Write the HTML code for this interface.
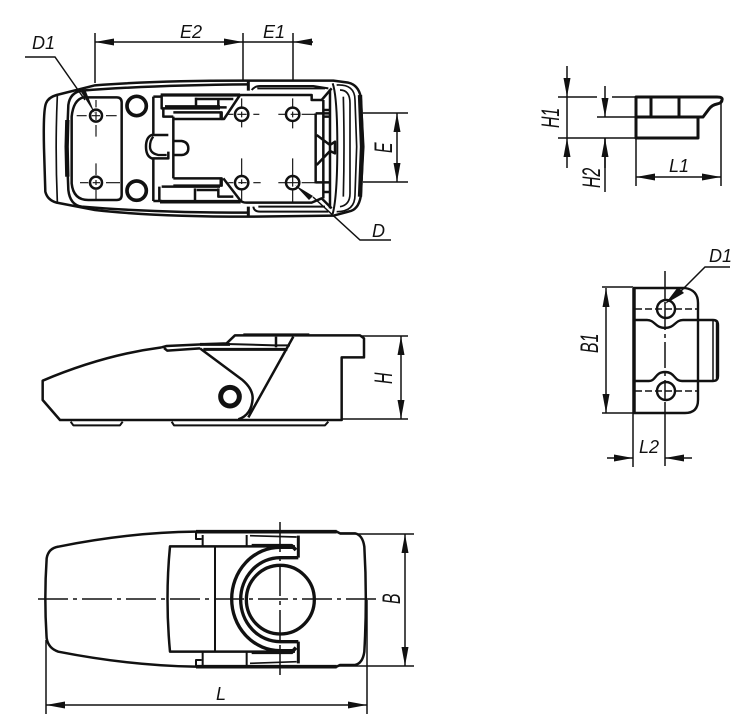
<!DOCTYPE html>
<html><head><meta charset="utf-8"><style>
html,body{margin:0;padding:0;background:#fff}
svg{display:block}
text{font-family:"Liberation Sans",sans-serif;font-style:italic;fill:#111;font-size:18px}
</style></head><body>
<svg width="750" height="718" viewBox="0 0 750 718" xmlns="http://www.w3.org/2000/svg">
<defs>
<marker id="a" viewBox="0 0 19 7" refX="19" refY="3.5" markerWidth="19" markerHeight="7" markerUnits="userSpaceOnUse" orient="auto-start-reverse"><path d="M0 0L19 3.5L0 7Z" fill="#111"/></marker>
</defs>
<g transform="translate(20 20) scale(.33333)" fill="none" stroke="#111" stroke-width="7.5" stroke-linejoin="round">
<path d="M72 385C70 300 72 265 78 250Q85 232 110 225L225 196Q400 182 670 182L940 182L985 188Q1015 195 1022 230L1030 380L1022 530Q1015 570 985 575L940 587L680 590Q400 590 225 570L110 548Q82 540 76 515Z"/>
<path d="M112 228Q105 380 112 545" stroke-width="5"/>
<path d="M185 212Q400 195 685 193M185 212Q150 218 145 255L140 380L145 510Q150 555 185 560Q400 578 685 578"/>
<path d="M685 183V212M685 560V590" stroke-width="9"/>
<path d="M190 232L290 232Q305 232 305 247L305 525Q305 540 290 540L205 540Q160 540 155 490L155 290Q160 240 190 232Z"/>
<path d="M142 300L140 380L142 470" stroke-width="13"/>
<circle cx="350" cy="258" r="29" stroke-width="11"/><circle cx="350" cy="512" r="29" stroke-width="11"/>
<circle cx="228" cy="287" r="18"/><circle cx="228" cy="488" r="18"/><circle cx="665" cy="283" r="20"/><circle cx="818" cy="283" r="20"/><circle cx="665" cy="488" r="20"/><circle cx="818" cy="488" r="20"/>
<path stroke-width="3.5" d="M170 287H200M215 287H240M258 287H290M180 488H205M218 488H240M258 488H300M228 240V262M228 275V300M228 315V350M228 430V465M228 480V495M228 510V540M625 283H640M652 283H680M700 283H718M775 283H800M812 283H835M845 283H885M625 488H640M655 488H680M700 488H722M775 488H835M845 488H890M665 235V262M665 275V292M665 305V322M818 235V262M818 275V292M818 305V325M665 415V465M665 478V492M665 510V545M818 415V500M818 510V545"/>
<path d="M400 230V345M400 415V543M400 230H425M400 543H425M445 345H395Q378 352 378 380Q378 408 395 415H445V395"/>
<path d="M440 405H415Q390 400 390 380Q390 360 400 350" stroke-width="7"/>
<path d="M460 363H485Q505 366 505 385Q505 403 485 405H460M460 290V475"/>
<path d="M422 225H660" stroke-width="10"/>
<path d="M425 225V265H600M430 265V290H460M460 277H605V297H460M528 233V260M530 237H640M595 240V262M595 262L620 262M605 277V297"/>
<path d="M435 260H600" stroke-width="9"/>
<path d="M605 297H612L660 225H875V240H905L935 205"/>
<path d="M603 275V297" stroke-width="9"/>
<path d="M460 475H605V497H460M425 500H600M418 500V540M525 505V540M530 510H595M595 505V530H640"/>
<path d="M420 545H662" stroke-width="11"/>
<path d="M603 475V497" stroke-width="9"/>
<path d="M610 475L660 540Q665 548 680 548H875L905 535L935 565"/>
<path d="M695 210Q705 198 720 198H880L925 205M700 560Q702 575 720 575H880L925 575M712 205H915M715 560H915" stroke-width="6"/>
<path d="M887 280V490M887 280H930M887 487H930M910 240V535M930 208V565M910 270H930M910 290H930M910 516H930M890 345L930 375L945 365V400L930 393L890 435"/>
<path d="M938 190Q952 230 952 380Q952 530 938 582" stroke-width="6"/>
<path d="M950 195Q1005 192 1005 240L1010 380L1005 525Q1005 575 950 575" stroke-width="5"/>
<path d="M960 210Q990 210 990 250V520Q990 555 960 560" stroke-width="5"/>
<path d="M970 230Q974 380 970 530" stroke-width="5"/>
<path d="M1020 225L1026 380L1020 530" stroke-width="13"/>
</g>
<g fill="none" stroke="#111" stroke-width="1.5">
<path d="M95 33V83M243 33V81M293 33V81"/>
<path d="M25 57H55L85 100"/><path d="M391 240H360L313 197"/>
<path d="M95 42H243" marker-start="url(#a)" marker-end="url(#a)"/>
<path d="M243 42H293"/><path d="M313 42H293" marker-end="url(#a)"/>
<path d="M363 113H408M363 182H408"/>
<path d="M397 113V182" marker-start="url(#a)" marker-end="url(#a)"/>
</g>
<path d="M295 185L313 196L309 200Z" fill="#111"/>
<path d="M95 114L81 92L85 89Z" fill="#111"/>
<text x="32" y="49">D1</text>
<text x="180" y="38">E2</text>
<text x="263" y="38">E1</text>
<text x="372" y="237">D</text>
<text transform="translate(392 153) rotate(-90) scale(.88 1.38)">E</text>
<g transform="translate(30 320) scale(.33333)" fill="none" stroke="#111" stroke-width="7.5" stroke-linejoin="round">
<path d="M395 82Q220 105 38 182V240L90 300H935V112H1002V55L990 46H615L590 70L540 72L410 78L395 82"/>
<path d="M402 84L412 92L510 85"/>
<path d="M122 305L130 316H270L278 305M425 305L432 316H885L895 305" stroke-width="6"/>
<path d="M510 85L635 178Q668 205 668 235Q665 285 625 298M790 50L655 292"/>
<path d="M510 73H600" stroke-width="9"/>
<path d="M520 88H772" stroke-width="9"/>
<path d="M590 72L735 76H780" stroke-width="6"/>
<path d="M640 44H838" stroke-width="8"/>
<path d="M738 50V82"/>
<circle cx="600" cy="230" r="28" stroke-width="15"/>
</g>
<g fill="none" stroke="#111" stroke-width="1.5">
<path d="M360 336H408M342 419H408"/>
<path d="M401 336V419" marker-start="url(#a)" marker-end="url(#a)"/>
</g>
<text transform="translate(392 384) rotate(-90) scale(.88 1.38)">H</text>
<g transform="translate(30 515) scale(.33333)" fill="none" stroke="#111" stroke-width="7.5" stroke-linejoin="round">
<path d="M50 130Q55 100 85 95Q300 52 495 50H920L930 55H975Q998 60 1003 95Q1012 250 1003 410Q998 445 975 450H930L920 455H495Q300 452 85 410Q55 400 50 370Q42 250 50 130Z"/>
<path d="M498 50H920M498 455H920" stroke-width="11"/>
<path d="M795 94H420Q405 250 420 410H795"/>
<path d="M555 95V410M650 60V95M650 410V450M518 60V95M518 410V450" stroke-width="6"/>
<path d="M498 50V72H515M498 455V435H515" stroke-width="6"/>
<path d="M660 62L800 66M660 445L800 440" stroke-width="5"/>
<path d="M805 62V128M805 380V445" stroke-width="9"/>
<ellipse cx="751" cy="254" rx="102" ry="103" stroke-width="10"/>
<path d="M750 128A118 126 0 0 0 750 380H805M750 128H805" stroke-width="10"/>
<path d="M790 97H750A145 155 0 0 0 750 407H790" stroke-width="10"/>
<path d="M665 92H785L798 105M665 412H785L798 398" stroke-width="11"/>
</g>
<g fill="none" stroke="#111" stroke-width="1.5">
<path d="M38 599H376" stroke-dasharray="30 5 4 5"/>
<path d="M280 522V675" stroke-dasharray="30 5 4 5"/>
<path d="M340 534H414M337 666H414M46 640V714M367 600V714"/>
<path d="M405 534V666" marker-start="url(#a)" marker-end="url(#a)"/>
<path d="M46 705H367" marker-start="url(#a)" marker-end="url(#a)"/>
</g>
<text transform="translate(400 604) rotate(-90) scale(.88 1.38)">B</text>
<text x="216" y="700">L</text>
<g fill="none" stroke="#111" stroke-width="3" stroke-linejoin="round">
<path d="M636 97H717Q723 97 722 100Q722 103 717 104Q712 105 709 109L703 117H636ZM636 117V138H698V117M651 97V117M679 97V117"/>
</g>
<g fill="none" stroke="#111" stroke-width="1.5">
<path d="M558 97H597M612 97H636M597 117H636M558 138H636M567 138V97M636 138V186M721 100V186M605 138V192"/>
<path d="M567 66V97" marker-end="url(#a)"/><path d="M567 168V138" marker-end="url(#a)"/>
<path d="M605 86V117" marker-end="url(#a)"/><path d="M605 168V138" marker-end="url(#a)"/>
<path d="M636 177H721" marker-start="url(#a)" marker-end="url(#a)"/>
</g>
<text transform="translate(559 128) rotate(-90) scale(.88 1.38)">H1</text>
<text transform="translate(600 188) rotate(-90) scale(.88 1.38)">H2</text>
<text x="669" y="172">L1</text>
<g fill="none" stroke="#111" stroke-width="2.4" stroke-linejoin="round">
<path d="M633 288H685Q698 290 698 303V400Q698 413 685 413H633"/>
<path d="M634 288V413" stroke-width="3.5"/>
<path d="M635 320H647C655 320 655 328 665 328C675 328 675 320 683 320H713Q718 320 718 325V376Q718 381 713 381H682C674 381 675 372 665 372C655 372 656 381 649 381H635"/>
<path d="M713 321V380" stroke-width="1.5"/><path d="M717 322V379" stroke-width="2.4"/>
<circle cx="666" cy="309" r="9"/><circle cx="666" cy="391" r="9"/>
</g>
<g fill="none" stroke="#111" stroke-width="1.5">
<path d="M635 309H698M635 391H698" stroke-dasharray="7 3"/>
<path d="M665 271V300M665 302V330M665 334V338M665 342V368M665 372V376M665 380V400M665 402V466"/>
<path d="M602 287H633M602 413H633M633 413V467"/>
<path d="M606 288V413" marker-start="url(#a)" marker-end="url(#a)"/>
<path d="M730 267H705L680 292"/>
<path d="M607 458H633" marker-end="url(#a)"/><path d="M692 458H665" marker-end="url(#a)"/>
</g>
<path d="M665 304L678 287L684 293Z" fill="#111"/>
<text transform="translate(598 353) rotate(-90) scale(.88 1.38)">B1</text>
<text x="709" y="262">D1</text>
<text x="639" y="453">L2</text>
</svg>
</body></html>
